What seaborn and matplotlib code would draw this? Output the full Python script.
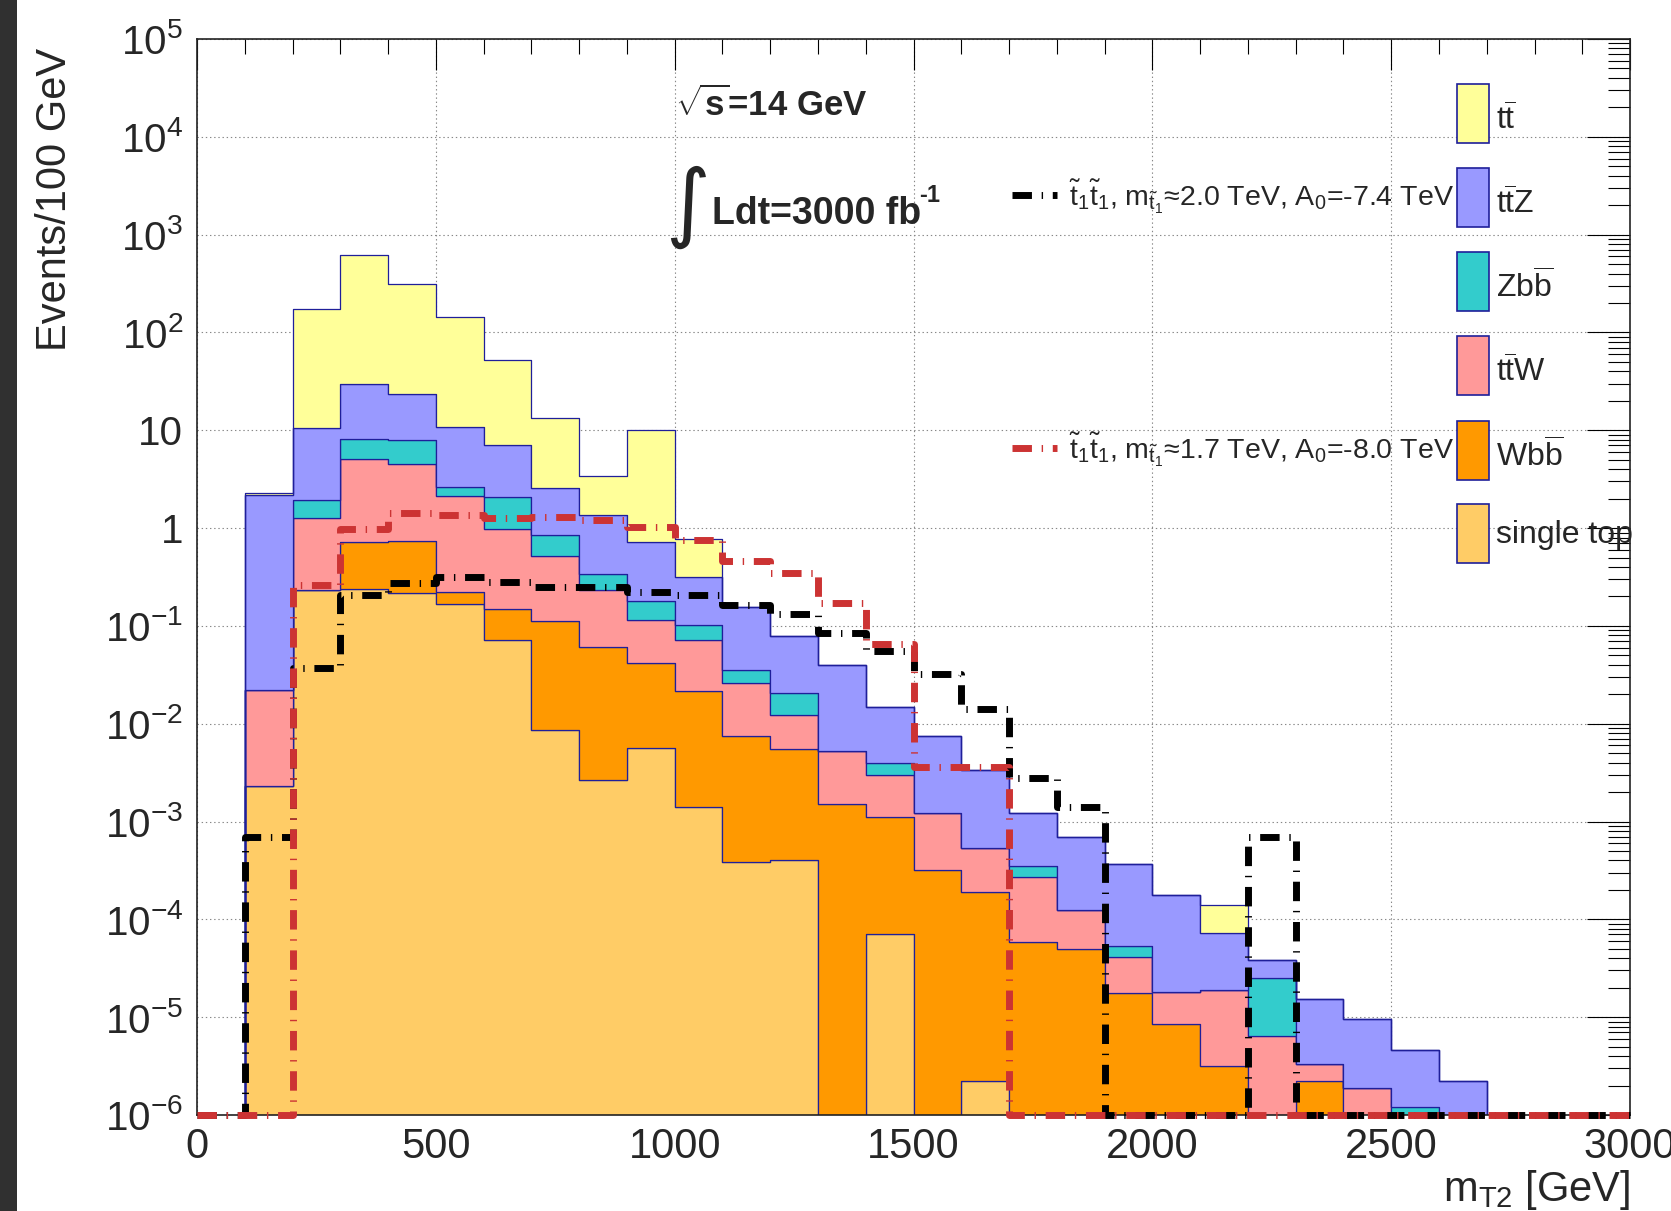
import numpy as np
import pandas as pd
import matplotlib
matplotlib.use("Agg")
import matplotlib.pyplot as plt
import seaborn as sns
from matplotlib.patches import Rectangle
from matplotlib.lines import Line2D
from matplotlib.ticker import MultipleLocator, FixedLocator, LogLocator, NullFormatter, FixedFormatter

# ---------------- data (events / 100 GeV) ----------------
bin_edges = list(range(0, 3100, 100))

processes = ["tt", "ttZ", "Zbb", "ttW", "Wbb", "single top"]
labels = [r"$\mathrm{t\overline{t}}$", r"$\mathrm{t\overline{t}Z}$", r"$\mathrm{Zb\overline{b}}$",
          r"$\mathrm{t\overline{t}W}$", r"$\mathrm{Wb\overline{b}}$", "single top"]
colors = ["#FFFF99", "#9999FF", "#33CCCC", "#FF9999", "#FF9900", "#FFCC66"]

tt = [0, 0.12, 163, 584, 287, 132, 44.8, 10.7, 2.03, 9.28, 0.463, 0, 0, 0, 0,
      0, 0, 0, 0, 0, 0, 6.75e-5, 0, 0, 0, 0, 0, 0, 0, 0]
ttZ = [0, 2.14, 8.7, 21.3, 15.5, 8.2, 5.0, 1.73, 1.01, 0.54, 0.214, 0.12, 0.058, 0.035, 0.0108,
       0.0063, 0.0028, 0.00087, 0.00057, 0.00031, 0.00016, 5.4e-5, 1.27e-5, 1.22e-5, 7.6e-6,
       3.45e-6, 2.2e-6, 0, 0, 0]
Zbb = [0, 0, 0.67, 2.96, 3.40, 0.52, 1.07, 0.33, 0.11, 0.066, 0.029, 0.009, 0.0084, 0, 0.00099,
       0, 0, 8.1e-5, 0, 1.3e-5, 0, 0, 1.9e-5, 0, 0, 1.2e-6, 0, 0, 0, 0]
ttW = [0, 0.0197, 1.02, 4.41, 3.81, 1.89, 0.84, 0.40, 0.17, 0.074, 0.051, 0.0188, 0.0068, 0.0037,
       0.0019, 0.00089, 0.00034, 0.00021, 7.5e-5, 2.35e-5, 9.4e-6, 1.56e-5, 6.4e-6, 1.1e-6,
       1.9e-6, 0, 0, 0, 0, 0]
Wbb = [0, 0, 0, 0.48, 0.53, 0.053, 0.077, 0.104, 0.058, 0.036, 0.020, 0.0071, 0.0051, 0.0015,
       0.00104, 0.00032, 0.00019, 5.9e-5, 5.0e-5, 1.75e-5, 8.6e-6, 3.2e-6, 0, 2.2e-6, 0, 0, 0,
       0, 0, 0]
single_top = [0, 0.0023, 0.234, 0.24, 0.216, 0.168, 0.0724, 0.0086, 0.00265, 0.00564, 0.00141,
              0.00039, 0.00040, 0, 7.0e-5, 0, 2.2e-6, 0, 0, 0, 0, 0, 0, 0, 0, 0, 0, 0, 0, 0]

sig_20 = [0, 7.0e-4, 0.037, 0.205, 0.273, 0.315, 0.284, 0.249, 0.249, 0.221, 0.205, 0.165, 0.133,
          0.084, 0.056, 0.032, 0.014, 0.0028, 0.0014, 0, 0, 0, 0.00069, 0, 0, 0, 0, 0, 0, 0]
sig_17 = [0, 0, 0.263, 0.98, 1.42, 1.35, 1.28, 1.30, 1.20, 1.02, 0.76, 0.456, 0.349, 0.172, 0.065,
          0.0036, 0.0036, 0, 0, 0, 0, 0, 0, 0, 0, 0, 0, 0, 0, 0]
sig_labels = [r"$\mathrm{\tilde{t}_1\tilde{t}_1}$, m$_{\mathrm{\tilde{t}_1}}$" + "\u2248" + "2.0 TeV, A$_0$=-7.4 TeV",
              r"$\mathrm{\tilde{t}_1\tilde{t}_1}$, m$_{\mathrm{\tilde{t}_1}}$" + "\u2248" + "1.7 TeV, A$_0$=-8.0 TeV"]

y_tick_vals = [1e-6, 1e-5, 1e-4, 1e-3, 1e-2, 1e-1, 1, 10, 1e2, 1e3, 1e4, 1e5]
y_tick_labels = [r"$10^{-6}$", r"$10^{-5}$", r"$10^{-4}$", r"$10^{-3}$", r"$10^{-2}$",
                 r"$10^{-1}$", "1", "10", r"$10^{2}$", r"$10^{3}$", r"$10^{4}$", r"$10^{5}$"]

# ---------------- style ----------------
sns.set_theme(style="white")
plt.rcParams["font.family"] = ["Liberation Sans", "DejaVu Sans"]
plt.rcParams["mathtext.fontset"] = "custom"
plt.rcParams["mathtext.rm"] = "Liberation Sans"
plt.rcParams["mathtext.it"] = "Liberation Sans:italic"
plt.rcParams["mathtext.bf"] = "Liberation Sans:bold"
plt.rcParams["lines.scale_dashes"] = False

fig = plt.figure(figsize=(16.71, 12.11), dpi=100)
fig.patch.set_facecolor("white")
fig.add_artist(Rectangle((0, 0), 0.0102, 1, transform=fig.transFigure,
                         facecolor="#303030", edgecolor="none"))
ax = fig.add_axes([0.1179, 0.0793, 0.8576, 0.8885])
ax.set_yscale("log")

centers = np.array(bin_edges[:-1]) + 50
series = [tt, ttZ, Zbb, ttW, Wbb, single_top]
bg = pd.DataFrame({
    "mt2": np.tile(centers, len(processes)),
    "w": np.concatenate([np.asarray(s, float) for s in series]),
    "process": np.repeat(processes, len(centers)),
})

sns.histplot(data=bg, x="mt2", weights="w", hue="process", hue_order=processes,
             palette=dict(zip(processes, colors)), multiple="stack", bins=bin_edges,
             element="step", fill=True, alpha=1, edgecolor="#1f1f9a", linewidth=0.9,
             legend=False, ax=ax)

ymin, ymax = 1e-6, 1e5
dash = (0, (14, 7, 1, 7))
for vals, col, z in [(sig_20, "black", 6), (sig_17, "#CC3333", 7)]:
    v = np.asarray(vals, float)
    sns.histplot(x=centers, weights=np.where(v > 0, v, ymin), bins=bin_edges,
                 element="step", fill=False, color=col, linewidth=5.0, linestyle=dash,
                 ax=ax, clip_on=False, zorder=z)

ax.set_xlim(0, 3000)
ax.set_ylim(ymin, ymax)

# ticks
ax.xaxis.set_major_locator(MultipleLocator(500))
ax.xaxis.set_minor_locator(MultipleLocator(100))
ax.yaxis.set_major_locator(FixedLocator(y_tick_vals))
ax.yaxis.set_major_formatter(FixedFormatter(y_tick_labels))
ax.yaxis.set_minor_locator(LogLocator(base=10, subs=np.arange(2, 10), numticks=100))
ax.yaxis.set_minor_formatter(NullFormatter())
ax.tick_params(which="both", direction="in", top=True, right=True, color="black")
ax.tick_params(axis="x", which="major", length=22, width=0.8, labelsize=30, pad=9)
ax.tick_params(axis="x", which="minor", length=11, width=0.8)
ax.tick_params(axis="y", which="major", length=31, width=0.8, labelsize=29, pad=10)
ax.tick_params(axis="y", which="minor", length=16, width=0.8)
for lab in ax.get_xticklabels() + ax.get_yticklabels():
    lab.set_clip_on(False)

ax.grid(True, which="major", linestyle=(0, (1, 2)), color="#888888", linewidth=0.8)
ax.set_axisbelow(True)
for sp in ax.spines.values():
    sp.set_color("#222222")
    sp.set_linewidth(1.2)

ax.set_xlabel("")
ax.set_ylabel("")
fig.text(0.0329, 0.9604, "Events/100 GeV", rotation=90, ha="center", va="top", fontsize=30)
fig.text(0.9755, 0.0083, r"m$_{\mathrm{T2}}$ [GeV]", ha="right", va="baseline", fontsize=30)

# annotations
T = ax.transAxes
ax.text(0.3335, 0.9387, r"$\sqrt{\mathbf{s}}$=14 GeV", transform=T, ha="left", va="center",
        fontsize=25, fontweight="bold")
ax.text(0.342, 0.8439, "\u222b", transform=T, ha="center", va="center", fontsize=62,
        family=["DejaVu Sans"])
ax.text(0.3594, 0.8281, "Ldt=3000 fb", transform=T, ha="left", va="baseline",
        fontsize=27, fontweight="bold")
ax.text(0.5038, 0.8485, "-1", transform=T, ha="left", va="baseline", fontsize=17,
        fontweight="bold")

# background legend
box_bottoms = [0.9033, 0.8253, 0.7472, 0.6691, 0.5902, 0.5130]
text_offsets = [0.0121, 0.0121, 0.0121, 0.0121, 0.0121, 0.0190]
for lab, col, yb, off in zip(labels, colors, box_bottoms, text_offsets):
    ax.add_patch(Rectangle((0.8793, yb), 0.0223, 0.0548, transform=T, facecolor=col,
                           edgecolor="#1f1f9a", linewidth=1.2, clip_on=False, zorder=8))
    ax.text(0.9065, yb + off, lab, transform=T, ha="left", va="baseline", fontsize=23,
            zorder=9)

# signal legend
for (lab, col, yl, yt) in [(sig_labels[0], "black", 0.855, 0.8448),
                           (sig_labels[1], "#CC3333", 0.6199, 0.6097)]:
    ax.add_line(Line2D([0.5687, 0.6001], [yl, yl], transform=T, color=col, linewidth=5.0,
                       linestyle=dash, zorder=8))
    ax.text(0.6085, yt, lab, transform=T, ha="left", va="baseline", fontsize=20.5, zorder=9)

fig.savefig("out.png", dpi=100)
